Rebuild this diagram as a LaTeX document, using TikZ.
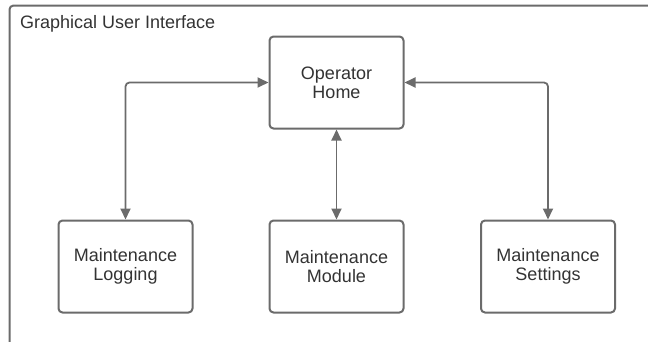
\documentclass[tikz,border=0pt]{standalone}
\usepackage{fontspec}
\setmainfont{Liberation Sans}
\usetikzlibrary{arrows.meta}
\definecolor{edge}{HTML}{6B6B6B}
\definecolor{ink}{HTML}{333333}
\tikzset{
  label font/.style={font=\fontsize{18}{19}\selectfont},
  box/.style={draw=edge, line width=2pt, rounded corners=4pt, fill=white,
    minimum width=134pt, minimum height=92pt, inner sep=0pt,
    align=center, text=ink, label font},
  link/.style={draw=edge, line width=1.8pt, rounded corners=4pt,
    {Triangle[length=11pt,width=10pt]}-{Triangle[length=11pt,width=10pt]}},
}
\begin{document}
\begin{tikzpicture}[x=1pt,y=-1pt]
  \useasboundingbox (0,0) rectangle (648,341);
  \begin{scope}
    \clip (0,0) rectangle (648,341);
    % outer frame, running past the page edge on the right and bottom
    \draw[edge, line width=2pt, rounded corners=4pt] (9.5,5.5) rectangle (680,380);
  \end{scope}
  \node[anchor=base west, text=ink, label font, inner sep=0pt] (title) at (20,28.5) {Graphical User Interface};

  \node[box] (home)  at (336.5,82.5)  {Operator\\Home};
  \node[box] (log)   at (125.5,266.5) {Maintenance\\Logging};
  \node[box] (mod)   at (336.5,266.5) {Maintenance\\Module};
  \node[box] (set)   at (548,266.5)   {Maintenance\\Settings};

  \draw[link] (log.north) |- (home.west);
  \draw[link] (set.north) |- (home.east);
  \draw[link] (home.south) -- (mod.north);
\end{tikzpicture}
\end{document}
